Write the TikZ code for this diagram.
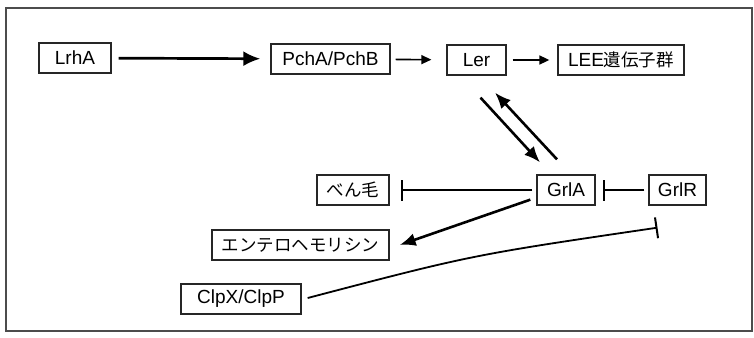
\documentclass[tikz,border=0pt]{standalone}
\usepackage{fontspec}
\setmainfont{Liberation Sans}
\newfontfamily\jp{Noto Sans CJK JP}
\usetikzlibrary{arrows.meta,calc}
\begin{document}
\begin{tikzpicture}[x=1pt,y=-1pt,
  box/.style={draw=black!85,line width=1.3pt,minimum height=30pt,inner sep=0pt,font=\fontsize{19}{22}\selectfont},
  jpt/.style={font=\fontsize{17.5}{21}\selectfont\jp},
  bigarr/.style={line width=2.6pt,-{Latex[length=16pt,width=13pt]}},
  smallarr/.style={line width=1.6pt,-{Triangle[length=10pt,width=9pt]}},
  inhib/.style={line width=1.8pt,-{Bar[width=21pt,line width=2pt]}}]
\useasboundingbox (0,0) rectangle (754,337);
\draw[line width=1.2pt,black!70] (6,8) rectangle (752,331);
\node[box,minimum width=72pt] (lrha) at (75,58) {LrhA};
\node[box,minimum width=119pt] (pch) at (330.5,59) {PchA/PchB};
\node[box,minimum width=59pt] (ler) at (476.5,60) {Ler};
\node[box,minimum width=126pt] (lee) at (621,60) {LEE{\fontsize{17.5}{21}\selectfont\jp 遺伝子群}};
\node[box,minimum width=58pt] (grla) at (566,190) {GrlA};
\node[box,minimum width=57pt] (grlr) at (677.5,190) {GrlR};
\node[box,jpt,minimum width=72pt] (ben) at (353,190) {べん毛};
\node[box,jpt,minimum width=177pt] (ent) at (300.5,245) {エンテロヘモリシン};
\node[box,minimum width=120pt] (clp) at (241,299) {ClpX/ClpP};
\draw[line width=2.7pt,-{Latex[length=17pt,width=15pt]},shorten <=7pt,shorten >=10pt] (lrha) -- (pch);
\draw[smallarr,shorten <=5pt,shorten >=15pt] (pch) -- (ler);
\draw[smallarr,shorten <=6pt,shorten >=8pt] (ler) -- (lee);
\draw[bigarr] ($(ler.south)+(4,22)$) -- ($(grla.north)+(-26,-12)$);
\draw[bigarr] ($(grla.north)+(-9,-15)$) -- ($(ler.south)+(18.5,17)$);
\draw[inhib,shorten <=4pt,shorten >=7pt] (grlr) -- (grla);
\draw[inhib,shorten <=4pt,shorten >=11pt] (grla) -- (ben);
\draw[bigarr] ($(grla.south west)+(-6,-6)$) -- ($(ent.east)+(10,0)$);
\coordinate (bar) at ($(grlr.south)+(-20,22)$);
\draw[inhib] ($(clp.east)+(6,-1)$) .. controls ($(clp.east)+(170,-44)$) .. (bar);
\end{tikzpicture}
\end{document}
